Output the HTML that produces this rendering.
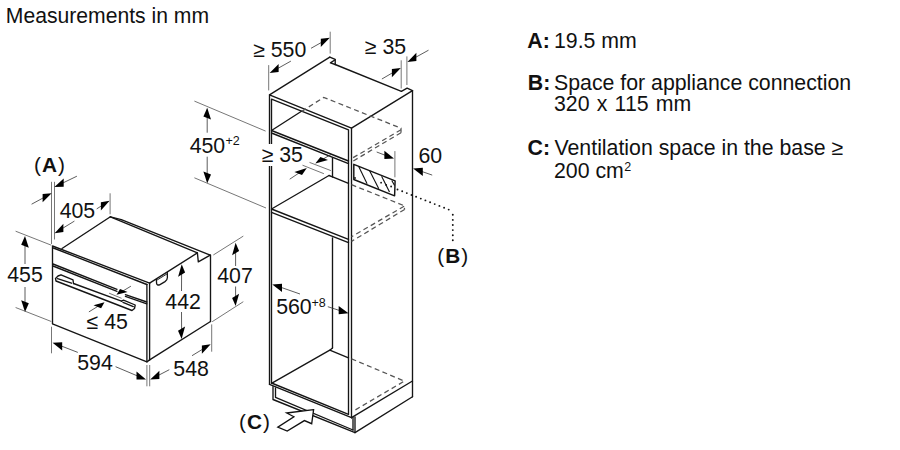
<!DOCTYPE html>
<html><head><meta charset="utf-8"><style>
html,body{margin:0;padding:0;background:#fff;}
svg{display:block;}
text{font-family:"Liberation Sans",sans-serif;fill:#111;}
</style></head><body>
<svg width="900" height="450" viewBox="0 0 900 450">
<rect width="900" height="450" fill="#fff"/>
<polyline points="52.5,323.5 52.5,246.0 149.6,283.1" stroke="#151515" stroke-width="1.35" fill="none" stroke-linejoin="round" stroke-linecap="round"/>
<line x1="53.4" y1="248.0" x2="146.8" y2="284.5" stroke="#151515" stroke-width="1.35" fill="none" stroke-linejoin="round" stroke-linecap="round"/>
<line x1="53.0" y1="264.0" x2="117.0" y2="289.3" stroke="#151515" stroke-width="1.35" fill="none" stroke-linejoin="round" stroke-linecap="round"/>
<line x1="53.0" y1="266.0" x2="117.0" y2="291.3" stroke="#151515" stroke-width="1.35" fill="none" stroke-linejoin="round" stroke-linecap="round"/>
<line x1="125.4" y1="294.6" x2="146.8" y2="302.0" stroke="#151515" stroke-width="1.35" fill="none" stroke-linejoin="round" stroke-linecap="round"/>
<line x1="125.4" y1="296.4" x2="146.8" y2="303.8" stroke="#151515" stroke-width="1.35" fill="none" stroke-linejoin="round" stroke-linecap="round"/>
<polyline points="52.5,323.8 146.9,361.9 149.6,359.9" stroke="#151515" stroke-width="1.35" fill="none" stroke-linejoin="round" stroke-linecap="round"/>
<line x1="146.9" y1="284.3" x2="146.9" y2="361.9" stroke="#151515" stroke-width="1.35" fill="none" stroke-linejoin="round" stroke-linecap="round"/>
<line x1="149.6" y1="283.1" x2="149.6" y2="359.9" stroke="#151515" stroke-width="1.35" fill="none" stroke-linejoin="round" stroke-linecap="round"/>
<line x1="62.0" y1="248.5" x2="110.4" y2="216.8" stroke="#151515" stroke-width="1.35" fill="none" stroke-linejoin="round" stroke-linecap="round"/>
<line x1="110.4" y1="216.8" x2="197.4" y2="252.9" stroke="#151515" stroke-width="1.35" fill="none" stroke-linejoin="round" stroke-linecap="round"/>
<line x1="121.3" y1="219.6" x2="210.2" y2="255.1" stroke="#151515" stroke-width="1.35" fill="none" stroke-linejoin="round" stroke-linecap="round"/>
<line x1="110.4" y1="216.8" x2="121.3" y2="219.6" stroke="#151515" stroke-width="1.35" fill="none" stroke-linejoin="round" stroke-linecap="round"/>
<line x1="149.6" y1="283.1" x2="197.4" y2="252.9" stroke="#151515" stroke-width="1.35" fill="none" stroke-linejoin="round" stroke-linecap="round"/>
<polyline points="197.4,252.9 198.3,261.9 210.2,255.1" stroke="#151515" stroke-width="1.35" fill="none" stroke-linejoin="round" stroke-linecap="round"/>
<line x1="210.5" y1="255.1" x2="210.5" y2="321.5" stroke="#151515" stroke-width="1.35" fill="none" stroke-linejoin="round" stroke-linecap="round"/>
<line x1="149.6" y1="359.9" x2="210.5" y2="321.5" stroke="#151515" stroke-width="1.35" fill="none" stroke-linejoin="round" stroke-linecap="round"/>
<path d="M156.3,278.9 L156.6,283.3 Q157,285.6 159.6,284.8 L165,281.6 Q167.4,280 167.4,277.5 L167.3,271.9" stroke="#151515" stroke-width="1.3" fill="none"/>
<line x1="156.8" y1="280.2" x2="167.2" y2="273.8" stroke="#151515" stroke-width="0.9"/>
<polyline points="73.5,283.5 73.0,279.8 61.0,274.8 58.0,276.0 55.5,278.5 56.0,281.0 132.0,310.5 134.5,308.5 135.2,305.0 123.5,300.2 121.5,301.2" stroke="#151515" stroke-width="1.35" fill="none" stroke-linejoin="round" stroke-linecap="round"/>
<line x1="73.5" y1="283.5" x2="121.5" y2="301.2" stroke="#151515" stroke-width="1.35" fill="none" stroke-linejoin="round" stroke-linecap="round"/>
<line x1="57.5" y1="278.6" x2="71.5" y2="283.2" stroke="#151515" stroke-width="1.35" fill="none" stroke-linejoin="round" stroke-linecap="round"/>
<line x1="123.0" y1="302.3" x2="133.3" y2="306.6" stroke="#151515" stroke-width="1.35" fill="none" stroke-linejoin="round" stroke-linecap="round"/>
<line x1="109.1" y1="293.2" x2="121.6" y2="298.3" stroke="#777" stroke-width="1" fill="none"/>
<line x1="130.9" y1="286.2" x2="122.9" y2="291.0" stroke="#333" stroke-width="0.8" fill="none"/>
<polygon points="116.5,294.8 127.6,291.9 120.0,289.0" fill="#000"/>
<line x1="88.9" y1="311.9" x2="98.1" y2="306.2" stroke="#333" stroke-width="0.8" fill="none"/>
<polygon points="104.5,302.2 101.1,308.2 93.5,305.2" fill="#000"/>
<line x1="51.5" y1="181.8" x2="51.5" y2="244.0" stroke="#777" stroke-width="1" fill="none"/>
<line x1="54.5" y1="181.8" x2="54.5" y2="239.5" stroke="#777" stroke-width="1" fill="none"/>
<line x1="31.6" y1="204.2" x2="43.4" y2="197.8" stroke="#333" stroke-width="0.8" fill="none"/>
<polygon points="51.6,193.3 42.6,202.3 42.6,194.1" fill="#000"/>
<line x1="76.9" y1="176.2" x2="62.8" y2="183.0" stroke="#333" stroke-width="0.8" fill="none"/>
<polygon points="54.4,187.1 63.7,186.7 63.7,178.5" fill="#000"/>
<line x1="110.1" y1="193.3" x2="110.1" y2="214.3" stroke="#777" stroke-width="1" fill="none"/>
<line x1="96.7" y1="208.9" x2="101.7" y2="205.7" stroke="#333" stroke-width="0.8" fill="none"/>
<polygon points="109.6,200.8 100.9,210.4 100.9,202.2" fill="#000"/>
<line x1="74.4" y1="221.1" x2="62.5" y2="228.4" stroke="#333" stroke-width="0.8" fill="none"/>
<polygon points="54.6,233.3 63.4,232.0 63.4,223.8" fill="#000"/>
<line x1="15.6" y1="231.2" x2="51.3" y2="245.2" stroke="#777" stroke-width="1" fill="none"/>
<line x1="15.6" y1="307.5" x2="51.3" y2="321.5" stroke="#777" stroke-width="1" fill="none"/>
<line x1="25.0" y1="264.0" x2="25.0" y2="245.2" stroke="#333" stroke-width="0.8" fill="none"/>
<polygon points="25.0,235.9 28.8,247.7 21.2,244.7" fill="#000"/>
<line x1="25.0" y1="287.0" x2="25.0" y2="302.8" stroke="#333" stroke-width="0.8" fill="none"/>
<polygon points="25.0,312.1 28.8,303.3 21.2,300.3" fill="#000"/>
<line x1="51.5" y1="326.7" x2="51.5" y2="353.3" stroke="#777" stroke-width="1" fill="none"/>
<line x1="146.9" y1="365.0" x2="146.9" y2="386.3" stroke="#777" stroke-width="1" fill="none"/>
<line x1="77.8" y1="352.4" x2="61.3" y2="346.0" stroke="#333" stroke-width="0.8" fill="none"/>
<polygon points="52.6,342.7 62.2,350.5 62.2,342.3" fill="#000"/>
<line x1="115.6" y1="366.7" x2="137.4" y2="375.9" stroke="#333" stroke-width="0.8" fill="none"/>
<polygon points="146.0,379.5 136.5,379.6 136.5,371.4" fill="#000"/>
<line x1="149.7" y1="365.0" x2="149.7" y2="386.3" stroke="#777" stroke-width="1" fill="none"/>
<line x1="211.7" y1="324.4" x2="211.7" y2="351.7" stroke="#777" stroke-width="1" fill="none"/>
<line x1="169.3" y1="369.7" x2="158.5" y2="375.3" stroke="#333" stroke-width="0.8" fill="none"/>
<polygon points="150.2,379.5 159.4,378.9 159.4,370.7" fill="#000"/>
<line x1="192.0" y1="355.7" x2="202.8" y2="349.1" stroke="#333" stroke-width="0.8" fill="none"/>
<polygon points="210.7,344.3 201.9,353.8 201.9,345.6" fill="#000"/>
<line x1="181.5" y1="291.0" x2="181.6" y2="273.6" stroke="#333" stroke-width="0.8" fill="none"/>
<polygon points="181.7,264.3 185.1,272.5 178.1,276.7" fill="#000"/>
<line x1="181.5" y1="312.0" x2="181.6" y2="329.7" stroke="#333" stroke-width="0.8" fill="none"/>
<polygon points="181.6,339.0 185.1,326.6 178.0,330.8" fill="#000"/>
<line x1="213.3" y1="255.0" x2="243.3" y2="236.1" stroke="#777" stroke-width="1" fill="none"/>
<line x1="212.2" y1="321.7" x2="243.3" y2="301.7" stroke="#777" stroke-width="1" fill="none"/>
<line x1="235.6" y1="266.0" x2="235.6" y2="252.1" stroke="#333" stroke-width="0.8" fill="none"/>
<polygon points="235.6,242.8 239.1,251.0 232.1,255.2" fill="#000"/>
<line x1="235.6" y1="286.5" x2="235.6" y2="296.8" stroke="#333" stroke-width="0.8" fill="none"/>
<polygon points="235.6,306.1 239.1,293.7 232.1,297.9" fill="#000"/>
<polyline points="269.5,384.4 269.5,94.9 351.5,128.2 351.5,417.7" stroke="#151515" stroke-width="1.35" fill="none" stroke-linejoin="round" stroke-linecap="round"/>
<polyline points="271.5,383.0 271.5,99.1 348.5,129.8 348.5,414.3" stroke="#151515" stroke-width="1.35" fill="none" stroke-linejoin="round" stroke-linecap="round"/>
<line x1="269.5" y1="94.9" x2="329.8" y2="57.1" stroke="#151515" stroke-width="1.35" fill="none" stroke-linejoin="round" stroke-linecap="round"/>
<polyline points="329.8,57.1 335.2,59.4 335.2,64.5" stroke="#151515" stroke-width="1.35" fill="none" stroke-linejoin="round" stroke-linecap="round"/>
<polyline points="335.2,59.8 330.4,62.9 335.2,64.5" stroke="#151515" stroke-width="1.35" fill="none" stroke-linejoin="round" stroke-linecap="round"/>
<line x1="335.2" y1="64.5" x2="401.4" y2="91.4" stroke="#151515" stroke-width="1.35" fill="none" stroke-linejoin="round" stroke-linecap="round"/>
<polyline points="401.4,91.4 407.1,88.2 412.5,90.7" stroke="#151515" stroke-width="1.35" fill="none" stroke-linejoin="round" stroke-linecap="round"/>
<line x1="412.5" y1="90.7" x2="351.5" y2="128.2" stroke="#151515" stroke-width="1.35" fill="none" stroke-linejoin="round" stroke-linecap="round"/>
<line x1="412.5" y1="90.7" x2="412.5" y2="396.7" stroke="#151515" stroke-width="1.35" fill="none" stroke-linejoin="round" stroke-linecap="round"/>
<line x1="351.5" y1="417.7" x2="412.5" y2="381.0" stroke="#151515" stroke-width="1.35" fill="none" stroke-linejoin="round" stroke-linecap="round"/>
<line x1="355.0" y1="432.6" x2="412.5" y2="396.7" stroke="#151515" stroke-width="1.35" fill="none" stroke-linejoin="round" stroke-linecap="round"/>
<line x1="271.5" y1="130.5" x2="348.5" y2="161.0" stroke="#151515" stroke-width="1.35" fill="none" stroke-linejoin="round" stroke-linecap="round"/>
<line x1="271.5" y1="133.0" x2="348.5" y2="163.6" stroke="#151515" stroke-width="1.35" fill="none" stroke-linejoin="round" stroke-linecap="round"/>
<line x1="271.5" y1="130.5" x2="301.5" y2="111.3" stroke="#151515" stroke-width="1.35" fill="none" stroke-linejoin="round" stroke-linecap="round"/>
<line x1="332.5" y1="157.8" x2="332.5" y2="176.8" stroke="#151515" stroke-width="1.35" fill="none" stroke-linejoin="round" stroke-linecap="round"/>
<line x1="332.5" y1="176.8" x2="348.5" y2="183.3" stroke="#151515" stroke-width="1.35" fill="none" stroke-linejoin="round" stroke-linecap="round"/>
<line x1="271.5" y1="209.0" x2="348.5" y2="239.4" stroke="#151515" stroke-width="1.35" fill="none" stroke-linejoin="round" stroke-linecap="round"/>
<line x1="271.5" y1="212.3" x2="348.5" y2="242.7" stroke="#151515" stroke-width="1.35" fill="none" stroke-linejoin="round" stroke-linecap="round"/>
<line x1="271.5" y1="209.0" x2="329.0" y2="175.5" stroke="#151515" stroke-width="1.35" fill="none" stroke-linejoin="round" stroke-linecap="round"/>
<line x1="329.0" y1="175.5" x2="332.5" y2="176.8" stroke="#151515" stroke-width="1.35" fill="none" stroke-linejoin="round" stroke-linecap="round"/>
<line x1="332.5" y1="237.8" x2="332.5" y2="348.0" stroke="#151515" stroke-width="1.35" fill="none" stroke-linejoin="round" stroke-linecap="round"/>
<polyline points="271.5,383.3 329.8,350.2 332.5,348.0" stroke="#151515" stroke-width="1.35" fill="none" stroke-linejoin="round" stroke-linecap="round"/>
<line x1="329.8" y1="350.2" x2="348.5" y2="357.8" stroke="#151515" stroke-width="1.35" fill="none" stroke-linejoin="round" stroke-linecap="round"/>
<line x1="269.5" y1="384.4" x2="351.5" y2="417.7" stroke="#151515" stroke-width="1.35" fill="none" stroke-linejoin="round" stroke-linecap="round"/>
<line x1="271.5" y1="383.0" x2="348.5" y2="414.3" stroke="#151515" stroke-width="1.35" fill="none" stroke-linejoin="round" stroke-linecap="round"/>
<polyline points="273.0,386.6 273.0,399.5 355.0,432.6" stroke="#151515" stroke-width="1.35" fill="none" stroke-linejoin="round" stroke-linecap="round"/>
<polyline points="275.5,387.8 275.5,397.3 353.0,430.0" stroke="#151515" stroke-width="1.35" fill="none" stroke-linejoin="round" stroke-linecap="round"/>
<line x1="353.0" y1="417.5" x2="353.0" y2="430.0" stroke="#151515" stroke-width="1.35" fill="none" stroke-linejoin="round" stroke-linecap="round"/>
<line x1="355.0" y1="417.0" x2="355.0" y2="432.6" stroke="#151515" stroke-width="1.35" fill="none" stroke-linejoin="round" stroke-linecap="round"/>
<polyline points="301.7,111.4 323.7,97.4 401.0,128.2 401.0,132.7" stroke="#555" stroke-width="1.25" fill="none" stroke-dasharray="5 3.4"/>
<polyline points="401.0,129.8 351.5,158.6" stroke="#555" stroke-width="1.25" fill="none" stroke-dasharray="5 3.4"/>
<polyline points="401.0,132.7 351.5,162.0" stroke="#555" stroke-width="1.25" fill="none" stroke-dasharray="5 3.4"/>
<polyline points="351.5,184.7 404.1,205.7 404.6,209.5" stroke="#555" stroke-width="1.25" fill="none" stroke-dasharray="5 3.4"/>
<polyline points="404.1,206.2 351.5,236.8" stroke="#555" stroke-width="1.25" fill="none" stroke-dasharray="5 3.4"/>
<polyline points="404.6,209.5 351.5,241.4" stroke="#555" stroke-width="1.25" fill="none" stroke-dasharray="5 3.4"/>
<polyline points="351.5,358.8 404.4,381.1 353.5,411.0" stroke="#555" stroke-width="1.25" fill="none" stroke-dasharray="5 3.4"/>
<polygon points="353.8,164.3 395.1,180.9 394.6,195.8 353.8,179.5" stroke="#151515" stroke-width="1.45" fill="#fff" stroke-linejoin="round"/>
<line x1="358.7" y1="166.4" x2="367.1" y2="183.7" stroke="#111" stroke-width="1.1"/>
<line x1="369.5" y1="170.6" x2="378.8" y2="188.8" stroke="#111" stroke-width="1.1"/>
<line x1="381.6" y1="176.2" x2="389.5" y2="192.0" stroke="#111" stroke-width="1.1"/>
<line x1="391.8" y1="180.4" x2="394.6" y2="185.5" stroke="#111" stroke-width="1.1"/>
<circle cx="381.1" cy="182.7" r="0.9" fill="#111"/>
<circle cx="386.2" cy="185" r="0.9" fill="#111"/>
<circle cx="391.1" cy="186.5" r="0.9" fill="#111"/>
<circle cx="355" cy="178" r="0.9" fill="#111"/>
<circle cx="397.5" cy="189.5" r="0.95" fill="#111"/>
<circle cx="402.2" cy="191.3" r="0.95" fill="#111"/>
<circle cx="406.8" cy="193.1" r="0.95" fill="#111"/>
<circle cx="411.5" cy="195.0" r="0.95" fill="#111"/>
<circle cx="416.1" cy="196.8" r="0.95" fill="#111"/>
<circle cx="420.8" cy="198.6" r="0.95" fill="#111"/>
<circle cx="425.4" cy="200.4" r="0.95" fill="#111"/>
<circle cx="430.1" cy="202.3" r="0.95" fill="#111"/>
<circle cx="434.7" cy="204.1" r="0.95" fill="#111"/>
<circle cx="439.4" cy="205.9" r="0.95" fill="#111"/>
<circle cx="444.1" cy="207.7" r="0.95" fill="#111"/>
<circle cx="448.7" cy="209.6" r="0.95" fill="#111"/>
<circle cx="452.8" cy="214.8" r="0.95" fill="#111"/>
<circle cx="452.8" cy="219.9" r="0.95" fill="#111"/>
<circle cx="452.8" cy="225.0" r="0.95" fill="#111"/>
<circle cx="452.8" cy="230.1" r="0.95" fill="#111"/>
<circle cx="452.8" cy="235.2" r="0.95" fill="#111"/>
<circle cx="452.8" cy="240.3" r="0.95" fill="#111"/>
<polygon points="313.6,409.7 286.7,413.0 293.9,416.7 277.8,427.2 287.2,431.1 304.4,420.6 311.7,423.7" stroke="#111" stroke-width="1.3" fill="#fff" stroke-linejoin="miter"/>
<line x1="268.7" y1="65.1" x2="268.7" y2="90.4" stroke="#777" stroke-width="1" fill="none"/>
<line x1="330.2" y1="31.7" x2="330.2" y2="53.6" stroke="#777" stroke-width="1" fill="none"/>
<line x1="311.0" y1="48.3" x2="321.7" y2="42.3" stroke="#333" stroke-width="0.8" fill="none"/>
<polygon points="329.8,37.8 320.8,46.9 320.8,38.7" fill="#000"/>
<line x1="290.9" y1="61.1" x2="277.7" y2="68.5" stroke="#333" stroke-width="0.8" fill="none"/>
<polygon points="269.6,73.1 278.6,72.1 278.6,63.9" fill="#000"/>
<line x1="401.2" y1="60.3" x2="401.2" y2="88.5" stroke="#777" stroke-width="1" fill="none"/>
<line x1="406.9" y1="56.4" x2="406.9" y2="85.0" stroke="#777" stroke-width="1" fill="none"/>
<line x1="381.9" y1="79.0" x2="392.7" y2="72.7" stroke="#333" stroke-width="0.8" fill="none"/>
<polygon points="400.8,68.1 391.9,77.3 391.9,69.1" fill="#000"/>
<line x1="428.5" y1="50.2" x2="415.5" y2="57.4" stroke="#333" stroke-width="0.8" fill="none"/>
<polygon points="407.4,61.9 416.4,61.0 416.4,52.8" fill="#000"/>
<line x1="194.4" y1="101.1" x2="265.6" y2="131.1" stroke="#777" stroke-width="1" fill="none"/>
<line x1="194.4" y1="177.8" x2="266.0" y2="208.0" stroke="#777" stroke-width="1" fill="none"/>
<line x1="207.2" y1="132.7" x2="207.2" y2="117.1" stroke="#333" stroke-width="0.8" fill="none"/>
<polygon points="207.2,107.8 211.0,119.6 203.4,116.6" fill="#000"/>
<line x1="207.2" y1="156.7" x2="207.2" y2="174.0" stroke="#333" stroke-width="0.8" fill="none"/>
<polygon points="207.2,183.3 211.0,174.5 203.4,171.5" fill="#000"/>
<line x1="302.5" y1="165.2" x2="323.9" y2="173.7" stroke="#777" stroke-width="1" fill="none"/>
<line x1="309.5" y1="162.4" x2="330.9" y2="170.6" stroke="#777" stroke-width="1" fill="none"/>
<line x1="289.7" y1="179.2" x2="299.0" y2="173.0" stroke="#333" stroke-width="0.8" fill="none"/>
<polygon points="306.8,167.9 302.0,175.1 294.4,172.1" fill="#000"/>
<line x1="331.0" y1="154.5" x2="323.3" y2="158.9" stroke="#333" stroke-width="0.8" fill="none"/>
<polygon points="315.3,163.6 328.0,159.9 320.4,156.9" fill="#000"/>
<line x1="394.9" y1="151.1" x2="394.9" y2="177.3" stroke="#777" stroke-width="1" fill="none"/>
<line x1="376.7" y1="152.0" x2="385.3" y2="155.3" stroke="#333" stroke-width="0.8" fill="none"/>
<polygon points="394.0,158.6 384.4,159.0 384.4,150.8" fill="#000"/>
<line x1="432.2" y1="175.1" x2="421.9" y2="171.5" stroke="#333" stroke-width="0.8" fill="none"/>
<polygon points="413.1,168.4 422.8,175.9 422.8,167.7" fill="#000"/>
<line x1="300.0" y1="294.0" x2="281.1" y2="287.4" stroke="#333" stroke-width="0.8" fill="none"/>
<polygon points="272.3,284.4 282.0,291.9 282.0,283.7" fill="#000"/>
<line x1="327.8" y1="306.7" x2="339.6" y2="310.5" stroke="#333" stroke-width="0.8" fill="none"/>
<polygon points="348.5,313.3 338.7,314.3 338.7,306.1" fill="#000"/>

<text x="5.8" y="23.1" font-size="21.15">Measurements in mm</text>
<text x="50" y="171.8" text-anchor="middle" font-size="20.8" letter-spacing="1">(<tspan font-weight="700">A</tspan>)</text>
<text x="77.4" y="217.6" text-anchor="middle" font-size="21.3">405</text>
<text x="25.0" y="282.2" text-anchor="middle" font-size="21.3">455</text>
<text x="95" y="370" text-anchor="middle" font-size="21.3">594</text>
<text x="191.1" y="375.6" text-anchor="middle" font-size="21.3">548</text>
<text x="183.1" y="308.9" text-anchor="middle" font-size="21.3">442</text>
<text x="235" y="283.2" text-anchor="middle" font-size="21.3">407</text>
<text x="107.2" y="328.9" text-anchor="middle" font-size="21.3">≤ 45</text>
<text x="279.7" y="56.5" text-anchor="middle" font-size="21.3">≥ 550</text>
<text x="385.5" y="54.2" text-anchor="middle" font-size="21.3">≥ 35</text>
<rect x="261" y="144" width="14" height="22" fill="#fff"/>
<text x="282.3" y="162" text-anchor="middle" font-size="21.3">≥ 35</text>
<text x="207.4" y="152.5" text-anchor="middle" font-size="21.3">450</text>
<text x="225.5" y="145.2" font-size="12.5">+2</text>
<text x="293.9" y="313.9" text-anchor="middle" font-size="21.3">560</text>
<text x="311.5" y="306.6" font-size="12.5">+8</text>
<text x="430.3" y="162.5" text-anchor="middle" font-size="21.3">60</text>
<text x="453.3" y="263.3" text-anchor="middle" font-size="20.8" letter-spacing="1">(<tspan font-weight="700">B</tspan>)</text>
<text x="255" y="429.3" text-anchor="middle" font-size="20.8" letter-spacing="1">(<tspan font-weight="700">C</tspan>)</text>


<text x="527.3" y="47.8" font-size="21.3" font-weight="700">A:</text>
<text x="554" y="47.8" font-size="21.3">19.5 mm</text>
<text x="527.8" y="89.5" font-size="21.3" font-weight="700">B:</text>
<text x="554" y="89.5" font-size="21.3">Space for appliance connection</text>
<text x="554" y="110.5" font-size="21.3" word-spacing="1.3">320 x 115 mm</text>
<text x="527.5" y="155" font-size="21.3" font-weight="700">C:</text>
<text x="554.5" y="155" font-size="21.3">Ventilation space in the base ≥</text>
<text x="554" y="178.2" font-size="21.3">200 cm<tspan font-size="12.5" dy="-7.2" dx="0.5">2</tspan></text>

</svg>
</body></html>
